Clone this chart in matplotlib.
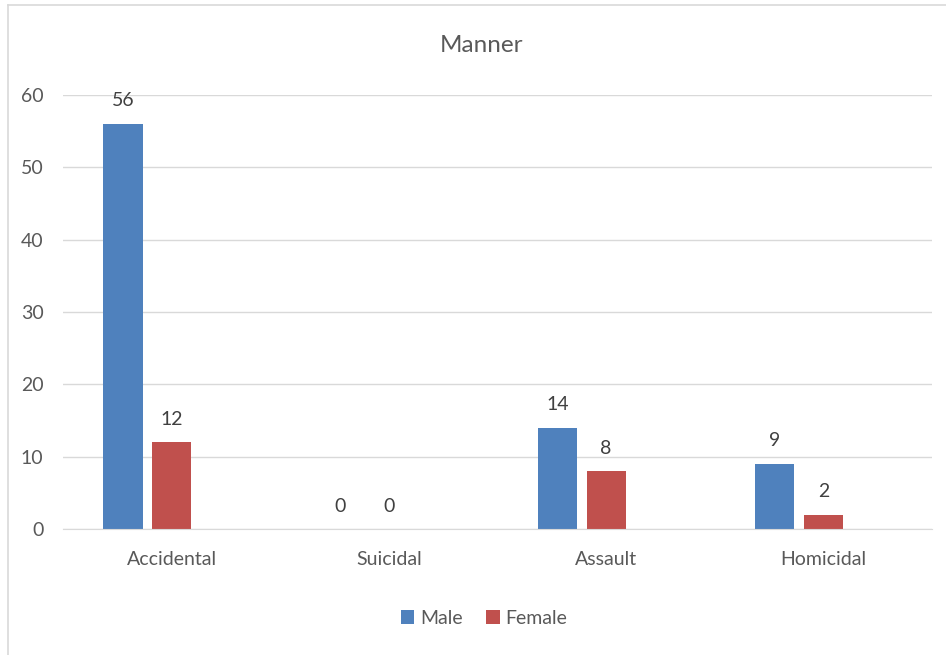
import matplotlib.pyplot as plt
import numpy as np
from matplotlib.lines import Line2D

categories = ["Accidental", "Suicidal", "Assault", "Homicidal"]
male = [56, 0, 14, 9]
female = [12, 0, 8, 2]
yticks = [0, 10, 20, 30, 40, 50, 60]

blue = "#4f81bd"
red = "#c0504d"
grey = "#595959"

plt.rcParams['font.family'] = ['Lato', 'DejaVu Sans']

fig = plt.figure(figsize=(9.46, 6.55), dpi=100)
ax = fig.add_axes([63 / 946, (655 - 529) / 655, 869 / 946, 434 / 655])

x = np.arange(len(categories))
w = 0.18
off = 0.224
ax.bar(x - off, male, w, color=blue, label="Male")
ax.bar(x, female, w, color=red, label="Female")

# value labels above the bars
for i in range(len(categories)):
    ax.text(x[i] - off, male[i] + 2.0, str(male[i]), ha="center", va="bottom",
            fontsize=14, color="#404040")
    ax.text(x[i], female[i] + 2.0, str(female[i]), ha="center", va="bottom",
            fontsize=14, color="#404040")

ax.set_xlim(-0.5, len(categories) - 0.5)
ax.set_ylim(0, 60)
ax.set_yticks(yticks)
ax.set_xticks(x)
ax.set_xticklabels(categories)
ax.tick_params(axis="both", length=0, labelsize=14, colors=grey)
ax.tick_params(axis="x", pad=16)
ax.tick_params(axis="y", pad=14)
ax.grid(axis="y", color="#d9d9d9", linewidth=1)
ax.set_axisbelow(True)
for s in ["top", "right", "left"]:
    ax.spines[s].set_visible(False)
ax.spines["bottom"].set_color("#d9d9d9")

fig.text(481 / 946, 1 - 45 / 655, "Manner", ha="center", va="center",
         fontsize=17.5, color=grey)

ax.legend(loc="center", bbox_to_anchor=(484 / 946, 1 - 618 / 655),
          bbox_transform=fig.transFigure, ncol=2, frameon=False,
          fontsize=14, handlelength=0.7, handleheight=0.7, handletextpad=0.3,
          columnspacing=1.2, labelcolor=grey)

# outer chart border (left and top)
fig.add_artist(Line2D([8 / 946, 8 / 946], [0, 1 - 5 / 655], color="#d9d9d9",
                      lw=1.2, transform=fig.transFigure))
fig.add_artist(Line2D([8 / 946, 1], [1 - 5 / 655, 1 - 5 / 655], color="#d9d9d9",
                      lw=1.2, transform=fig.transFigure))

plt.savefig("out.png", dpi=100)
